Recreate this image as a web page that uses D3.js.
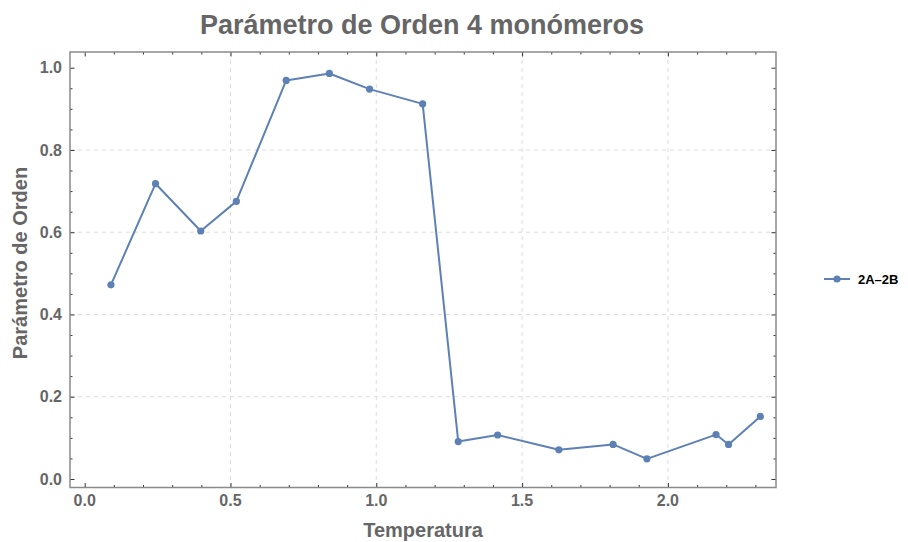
<!DOCTYPE html>
<html>
<head>
<meta charset="utf-8">
<script src="https://cdn.jsdelivr.net/npm/d3@7"></script>
<style>
  html, body { margin: 0; padding: 0; background: #fff; }
  svg { display: block; font-family: "Liberation Sans", Arial, sans-serif; }
</style>
</head>
<body>
<svg id="chart" width="908" height="542"></svg>
<script>
// Order parameter vs temperature, 4 monomers
const temperatura = [0.090, 0.243, 0.398, 0.520, 0.691, 0.839, 0.977, 1.159,
                     1.281, 1.416, 1.626, 1.812, 1.928, 2.165, 2.208, 2.317];
const parametro   = [0.472, 0.718, 0.603, 0.675, 0.969, 0.986, 0.948, 0.912,
                     0.091, 0.107, 0.071, 0.084, 0.049, 0.108, 0.084, 0.152];
const seriesName = "2A\u20132B";

const xMajorTicks = [0.0, 0.5, 1.0, 1.5, 2.0];
const yMajorTicks = [0.0, 0.2, 0.4, 0.6, 0.8, 1.0];
const xGrid = [0.5, 1.0, 1.5, 2.0];
const yGrid = [0.2, 0.4, 0.6, 0.8];

const titleText = "Parámetro de Orden 4 monómeros";
const xLabel = "Temperatura";
const yLabel = "Parámetro de Orden";

const plot = { left: 70, right: 776, top: 52, bottom: 487.5 };
const lineColor = "#5e81b5";
const textGray = "#666666";

const svg = d3.select("#chart");

const x = d3.scaleLinear().domain([-0.0504, 2.3707]).range([plot.left, plot.right]);
const y = d3.scaleLinear().domain([-0.0207, 1.0382]).range([plot.bottom, plot.top]);

// dashed grid lines
const grid = svg.append("g").attr("stroke", "#dcdcdc").attr("stroke-width", 1)
  .attr("stroke-dasharray", "4,4");
grid.selectAll("line.gx").data(xGrid).join("line")
  .attr("x1", d => x(d)).attr("x2", d => x(d))
  .attr("y1", plot.top).attr("y2", plot.bottom);
grid.selectAll("line.gy").data(yGrid).join("line")
  .attr("y1", d => y(d)).attr("y2", d => y(d))
  .attr("x1", plot.left).attr("x2", plot.right);

// minor tick positions
const xMinor = d3.range(0, 24).map(i => i / 10).filter(v => x(v) < plot.right - 1);
const yMinor = d3.range(0, 21).map(i => i / 20);

function isMajor(v, arr) { return arr.some(m => Math.abs(m - v) < 1e-6); }

// axes built with d3 axis generators; ticks point inward
const tickStroke = "#333";
function styleAxis(g) {
  g.select(".domain").remove();
  g.selectAll(".tick line").attr("stroke", tickStroke).attr("stroke-width", 1);
}

// bottom
svg.append("g").attr("transform", `translate(0,${plot.bottom})`)
  .call(d3.axisBottom(x).tickValues(xMinor).tickSizeInner(0).tickSizeOuter(0).tickFormat(""))
  .call(styleAxis)
  .call(g => g.selectAll(".tick line").attr("y2", d => isMajor(d, xMajorTicks) ? -4.5 : -2.5));
// top
svg.append("g").attr("transform", `translate(0,${plot.top})`)
  .call(d3.axisTop(x).tickValues(xMinor).tickSizeInner(0).tickSizeOuter(0).tickFormat(""))
  .call(styleAxis)
  .call(g => g.selectAll(".tick line").attr("y2", d => isMajor(d, xMajorTicks) ? 4.5 : 2.5));
// left
svg.append("g").attr("transform", `translate(${plot.left},0)`)
  .call(d3.axisLeft(y).tickValues(yMinor).tickSizeInner(0).tickSizeOuter(0).tickFormat(""))
  .call(styleAxis)
  .call(g => g.selectAll(".tick line").attr("x2", d => isMajor(d, yMajorTicks) ? 4.5 : 2.5));
// right
svg.append("g").attr("transform", `translate(${plot.right},0)`)
  .call(d3.axisRight(y).tickValues(yMinor).tickSizeInner(0).tickSizeOuter(0).tickFormat(""))
  .call(styleAxis)
  .call(g => g.selectAll(".tick line").attr("x2", d => isMajor(d, yMajorTicks) ? -4.5 : -2.5));

// frame
svg.append("rect")
  .attr("x", plot.left).attr("y", plot.top)
  .attr("width", plot.right - plot.left).attr("height", plot.bottom - plot.top)
  .attr("fill", "none").attr("stroke", "#8a8a8a").attr("stroke-width", 1.5);

// tick labels
svg.append("g").selectAll("text").data(xMajorTicks).join("text")
  .attr("x", d => x(d)).attr("y", plot.bottom + 18)
  .attr("text-anchor", "middle")
  .attr("font-size", 16).attr("font-weight", "bold").attr("fill", textGray)
  .text(d => d3.format(".1f")(d));
svg.append("g").selectAll("text").data(yMajorTicks).join("text")
  .attr("x", plot.left - 8).attr("y", d => y(d)).attr("dy", "0.35em")
  .attr("text-anchor", "end")
  .attr("font-size", 16).attr("font-weight", "bold").attr("fill", textGray)
  .text(d => d3.format(".1f")(d));

// series line and markers
const pts = temperatura.map((t, i) => [t, parametro[i]]);
svg.append("path").datum(pts)
  .attr("fill", "none").attr("stroke", lineColor).attr("stroke-width", 2)
  .attr("stroke-linejoin", "round")
  .attr("d", d3.line().x(d => x(d[0])).y(d => y(d[1])));
svg.append("g").selectAll("circle").data(pts).join("circle")
  .attr("cx", d => x(d[0])).attr("cy", d => y(d[1])).attr("r", 3.6)
  .attr("fill", lineColor);

// title and axis labels
svg.append("text").attr("x", 422).attr("y", 34).attr("text-anchor", "middle")
  .attr("font-size", 27).attr("font-weight", "bold").attr("fill", textGray)
  .text(titleText);
svg.append("text").attr("x", 423).attr("y", 537).attr("text-anchor", "middle")
  .attr("font-size", 20).attr("font-weight", "bold").attr("fill", textGray)
  .text(xLabel);
svg.append("text").attr("transform", "translate(27,263) rotate(-90)")
  .attr("text-anchor", "middle")
  .attr("font-size", 20).attr("font-weight", "bold").attr("fill", textGray)
  .text(yLabel);

// legend
const lg = svg.append("g").attr("transform", "translate(824,279)");
lg.append("line").attr("x1", 0).attr("x2", 26).attr("y1", 0).attr("y2", 0)
  .attr("stroke", lineColor).attr("stroke-width", 2);
lg.append("circle").attr("cx", 13).attr("cy", 0).attr("r", 3.6).attr("fill", lineColor);
lg.append("text").attr("x", 34).attr("y", 0).attr("dy", "0.35em")
  .attr("font-size", 13).attr("font-weight", "bold").attr("fill", "#000")
  .text(seriesName);
</script>
</body>
</html>
